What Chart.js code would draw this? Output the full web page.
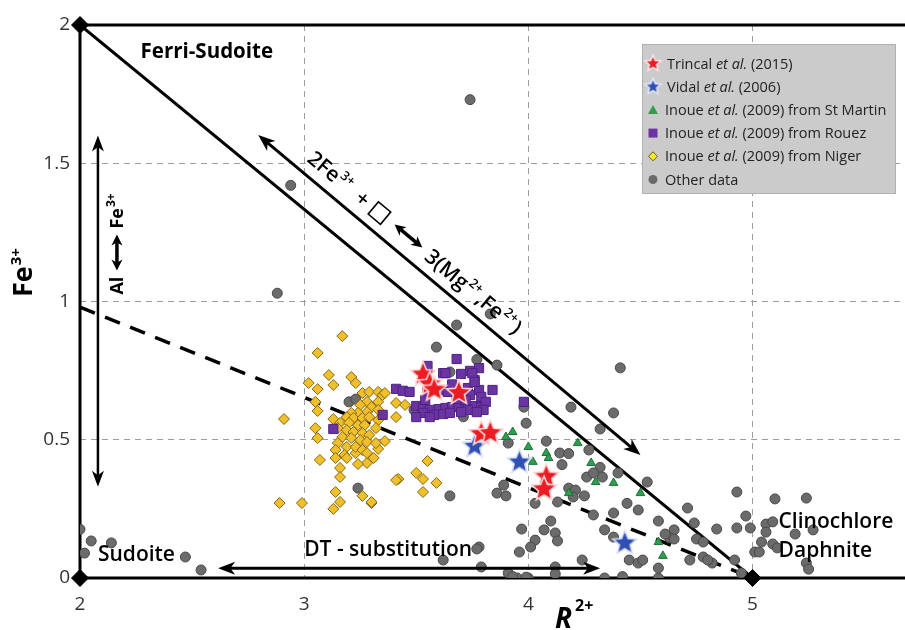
<!DOCTYPE html>
<html>
<head>
<meta charset="utf-8">
<script src="https://cdn.jsdelivr.net/npm/chart.js@4.4.1/dist/chart.umd.min.js"></script>
<style>
  html, body { margin: 0; padding: 0; background: #fff; }
  #wrap { width: 905px; height: 630px; }
</style>
</head>
<body>
<div id="wrap"><canvas id="chloriteChart" width="905" height="630"></canvas></div>
<script>
// ---- data (R2+ , Fe3+) -------------------------------------------------
const xRange = [2, 5.68];
const yRange = [0, 2];

// compositional joins and end members
const ferriJoin = [[2, 2], [5, 0]];
const dtJoin = [[2, 0.98], [5, 0]];
const endMembers = [[2, 2], [2, 0], [5, 0]];

const trincal = [[3.53, 0.74], [3.56, 0.705], [3.58, 0.685], [3.69, 0.673],
  [3.79, 0.525], [3.83, 0.528], [4.08, 0.37], [4.07, 0.325]];

const vidal = [[3.76, 0.48], [3.96, 0.423], [4.43, 0.13]];

const stMartin = [[3.93, 0.528], [3.90, 0.51], [4.00, 0.474], [4.08, 0.452],
  [4.09, 0.434], [4.02, 0.42], [4.22, 0.488], [4.28, 0.416], [4.30, 0.347],
  [4.38, 0.344], [4.18, 0.307], [4.50, 0.307], [4.58, 0.13], [4.60, 0.08]];

const rouez = [[3.55, 0.767], [3.68, 0.792], [3.74, 0.749], [3.78, 0.759],
  [3.76, 0.716], [3.70, 0.738], [3.62, 0.741], [3.41, 0.684], [3.44, 0.677],
  [3.47, 0.673], [3.55, 0.673], [3.62, 0.68], [3.73, 0.687], [3.78, 0.68],
  [3.84, 0.68], [3.74, 0.662], [3.79, 0.655], [3.50, 0.622], [3.53, 0.615],
  [3.56, 0.608], [3.60, 0.611], [3.63, 0.615], [3.66, 0.618], [3.69, 0.622],
  [3.72, 0.618], [3.75, 0.622], [3.79, 0.618], [3.53, 0.597], [3.58, 0.59],
  [3.62, 0.593], [3.54, 0.644], [3.68, 0.647], [3.72, 0.644], [3.98, 0.637],
  [3.81, 0.637], [3.35, 0.59], [3.13, 0.539], [3.63, 0.741], [3.75, 0.741],
  [3.76, 0.709], [3.50, 0.582], [3.56, 0.582], [3.65, 0.597], [3.73, 0.608],
  [3.80, 0.608], [3.64, 0.673], [3.66, 0.70], [3.70, 0.60], [3.77, 0.60]];

const niger = [[3.17, 0.875], [3.06, 0.814], [3.11, 0.734], [3.13, 0.698],
  [3.02, 0.705], [3.06, 0.683], [3.21, 0.727], [3.23, 0.705], [3.05, 0.637],
  [3.06, 0.604], [2.91, 0.575], [3.13, 0.575], [3.05, 0.542], [3.06, 0.506],
  [3.07, 0.427], [3.16, 0.398], [3.16, 0.365], [3.14, 0.311], [3.16, 0.275],
  [3.13, 0.25], [2.89, 0.271], [2.99, 0.271], [3.26, 0.297], [3.30, 0.271],
  [3.42, 0.358], [3.50, 0.38], [3.53, 0.358], [3.53, 0.311], [3.59, 0.344],
  [3.55, 0.423], [3.36, 0.495], [3.33, 0.467], [3.31, 0.434], [3.28, 0.416],
  [3.24, 0.412], [3.23, 0.452], [3.41, 0.633], [3.45, 0.626], [3.41, 0.582],
  [3.26, 0.669], [3.29, 0.673], [3.33, 0.673], [3.35, 0.662], [3.36, 0.669],
  [3.33, 0.637], [3.28, 0.637], [3.25, 0.626], [3.30, 0.618], [3.33, 0.608],
  [3.28, 0.600], [3.24, 0.597], [3.21, 0.597], [3.19, 0.582], [3.22, 0.579],
  [3.26, 0.579], [3.29, 0.582], [3.33, 0.571], [3.16, 0.561], [3.20, 0.561],
  [3.24, 0.553], [3.27, 0.553], [3.32, 0.542], [3.15, 0.542], [3.19, 0.535],
  [3.22, 0.528], [3.26, 0.524], [3.29, 0.517], [3.17, 0.51], [3.21, 0.506],
  [3.25, 0.499], [3.28, 0.492], [3.32, 0.488], [3.15, 0.488], [3.19, 0.474],
  [3.23, 0.474], [3.26, 0.463], [3.14, 0.463], [3.18, 0.445], [3.28, 0.452],
  [3.19, 0.434], [3.14, 0.434], [3.30, 0.275], [3.41, 0.354]];

const otherData = [[3.74, 1.73], [2.94, 1.42], [2.88, 1.03], [3.68, 0.915],
  [3.83, 0.955], [3.59, 0.835], [3.77, 0.79], [3.86, 0.77], [3.65, 0.745],
  [4.41, 0.76], [3.20, 0.637], [3.23, 0.647], [3.49, 0.608], [3.71, 0.583],
  [3.98, 0.618], [3.24, 0.325], [3.65, 0.297], [3.86, 0.307], [3.89, 0.336],
  [3.90, 0.297], [3.99, 0.56], [4.19, 0.618], [4.38, 0.597], [4.32, 0.539],
  [4.08, 0.495], [3.91, 0.488], [4.14, 0.452], [4.18, 0.45], [4.15, 0.41],
  [4.27, 0.463], [4.32, 0.40], [4.33, 0.365], [4.26, 0.365], [4.29, 0.38],
  [4.40, 0.38], [4.53, 0.347], [4.18, 0.325], [4.21, 0.318], [4.20, 0.293],
  [4.25, 0.297], [4.13, 0.275], [4.03, 0.27], [4.29, 0.228], [4.38, 0.235],
  [4.44, 0.27], [4.49, 0.246], [4.58, 0.206], [4.71, 0.253], [4.65, 0.174],
  [4.63, 0.145], [4.10, 0.206], [4.34, 0.174], [4.38, 0.148], [4.07, 0.174],
  [4.12, 0.163], [4.13, 0.134], [3.97, 0.177], [4.03, 0.137], [4.01, 0.112],
  [3.96, 0.094], [3.78, 0.112], [3.62, 0.065], [3.79, 0.04], [3.95, 0.0],
  [4.0, 0.0], [4.12, 0.04], [4.12, 0.015], [4.24, 0.065], [4.34, 0.0],
  [4.42, 0.005], [4.45, 0.065], [4.49, 0.054], [4.51, 0.065], [4.58, 0.036],
  [4.58, 0.0], [3.91, 0.018], [3.93, 0.005], [3.99, 0.003], [4.93, 0.311],
  [5.10, 0.286], [5.24, 0.289], [4.97, 0.224], [4.74, 0.199], [4.84, 0.177],
  [4.93, 0.181], [4.99, 0.181], [5.06, 0.195], [5.09, 0.203], [5.06, 0.166],
  [5.19, 0.159], [5.27, 0.174], [4.61, 0.159], [4.65, 0.141], [4.75, 0.141],
  [4.78, 0.13], [5.04, 0.13], [5.01, 0.094], [5.03, 0.094], [5.09, 0.123],
  [5.11, 0.109], [4.72, 0.065], [4.78, 0.076], [4.82, 0.054], [4.80, 0.065],
  [4.92, 0.065], [5.24, 0.054], [5.25, 0.032], [4.95, 0.018], [2.0, 0.176],
  [2.05, 0.134], [2.02, 0.09], [2.14, 0.127], [2.47, 0.076], [2.54, 0.029],
  [3.77, 0.105]];

const legendRows = [
  ['Trincal ', 'et al.', ' (2015)'],
  ['Vidal ', 'et al.', ' (2006)'],
  ['Inoue ', 'et al.', ' (2009) from St Martin'],
  ['Inoue ', 'et al.', ' (2009) from Rouez'],
  ['Inoue ', 'et al.', ' (2009) from Niger'],
  ['Other data', '', '']
];

const pts = arr => arr.map(p => ({ x: p[0], y: p[1] }));

// ---- filled star point images ----------------------------------------
function starPath(ctx, cx, cy, ro, ri) {
  ctx.beginPath();
  for (let i = 0; i < 10; i++) {
    const r = i % 2 === 0 ? ro : ri;
    const a = -Math.PI / 2 + i * Math.PI / 5;
    ctx.lineTo(cx + r * Math.cos(a), cy + r * Math.sin(a));
  }
  ctx.closePath();
}
function makeStar(fill, edge, ro) {
  const c = document.createElement('canvas');
  const s = Math.ceil(ro * 2 + 6);
  c.width = s; c.height = s;
  const g = c.getContext('2d');
  starPath(g, s / 2, s / 2 + 1, ro, ro * 0.45);
  g.fillStyle = fill;
  g.fill();
  g.lineWidth = 1.6;
  g.strokeStyle = edge;
  g.stroke();
  return c;
}
const redStar = makeStar('#ec1c24', '#ffd6d6', 13);
const blueStar = makeStar('#2f4fb3', '#d4dcf5', 12.5);

// ---- drawing helpers ---------------------------------------------------
function arrowHead(ctx, x, y, ang, len, half) {
  ctx.save();
  ctx.translate(x, y);
  ctx.rotate(ang);
  ctx.beginPath();
  ctx.moveTo(0, 0);
  ctx.lineTo(-len, -half);
  ctx.lineTo(-len * 0.72, 0);
  ctx.lineTo(-len, half);
  ctx.closePath();
  ctx.fill();
  ctx.restore();
}
function doubleArrow(ctx, x1, y1, x2, y2, lw, len, half) {
  const a = Math.atan2(y2 - y1, x2 - x1);
  const k = len * 0.7;
  ctx.lineWidth = lw;
  ctx.beginPath();
  ctx.moveTo(x1 + Math.cos(a) * k, y1 + Math.sin(a) * k);
  ctx.lineTo(x2 - Math.cos(a) * k, y2 - Math.sin(a) * k);
  ctx.stroke();
  arrowHead(ctx, x2, y2, a, len, half);
  arrowHead(ctx, x1, y1, a + Math.PI, len, half);
}
// draw a run of text pieces along the current baseline, return end x
function richText(ctx, x, y, pieces) {
  pieces.forEach(p => {
    ctx.font = p.font;
    ctx.fillText(p.t, x, y - (p.up || 0));
    x += ctx.measureText(p.t).width + (p.gap || 0);
  });
  return x;
}

const FONT = '"Open Sans", "DejaVu Sans", sans-serif';

const overlay = {
  id: 'overlay',
  afterDatasetsDraw(chart) {
    const { ctx, scales: { x, y } } = chart;
    const px = v => x.getPixelForValue(v);
    const py = v => y.getPixelForValue(v);
    ctx.save();
    ctx.fillStyle = '#000';
    ctx.strokeStyle = '#000';
    ctx.textBaseline = 'alphabetic';

    // exchange vector parallel to the ferri join
    const ax1 = px(2.795), ay1 = py(1.602), ax2 = px(4.5), ay2 = py(0.445);
    doubleArrow(ctx, ax1, ay1, ax2, ay2, 3, 17, 6.5);
    const ang = Math.atan2(ay2 - ay1, ax2 - ax1);
    ctx.save();
    ctx.translate(ax1, ay1);
    ctx.rotate(ang);
    const base = -11;
    const big = '600 21px ' + FONT, sup = '600 13px ' + FONT;
    richText(ctx, 53, base, [
      { t: '2Fe', font: big, gap: 1 },
      { t: '3+', font: sup, up: 9 }
    ]);
    ctx.font = big;
    ctx.textAlign = 'center';
    ctx.fillText('+', 121, base);
    ctx.textAlign = 'left';
    ctx.lineWidth = 1.6;
    ctx.strokeRect(135, base - 15, 16, 16);
    doubleArrow(ctx, 162, base - 8, 198, base - 8, 3.5, 11, 5.5);
    richText(ctx, 206, base, [
      { t: '3(Mg', font: big, gap: 1 },
      { t: '2+', font: sup, up: 9, gap: 1 },
      { t: ',Fe', font: big, gap: 1 },
      { t: '2+', font: sup, up: 9, gap: 1 },
      { t: ')', font: big }
    ]);
    ctx.restore();

    // Al <-> Fe3+ substitution
    const vx = px(2.08);
    doubleArrow(ctx, vx, py(1.6), vx, py(0.33), 2.5, 16, 6);
    ctx.save();
    ctx.translate(vx + 25, py(1.025));
    ctx.rotate(-Math.PI / 2);
    richText(ctx, 0, 0, [{ t: 'Al', font: 'bold 18px ' + FONT }]);
    doubleArrow(ctx, 24, -6, 60, -6, 3.5, 11, 5.5);
    richText(ctx, 66, 0, [
      { t: 'Fe', font: 'bold 18px ' + FONT, gap: 1 },
      { t: '3+', font: 'bold 12px ' + FONT, up: 8 }
    ]);
    ctx.restore();

    // DT substitution
    doubleArrow(ctx, px(2.616), py(0.035), px(4.32), py(0.035), 3, 17, 6.5);

    // field labels
    ctx.font = 'bold 20.5px ' + FONT;
    ctx.fillText('Ferri-Sudoite', px(2.27), py(1.88));
    ctx.font = '600 21px ' + FONT;
    ctx.fillText('Sudoite', px(2.08), py(0.063));
    ctx.fillText('DT - substitution', px(3.0), py(0.08));
    ctx.fillText('Clinochlore', px(5.116), py(0.18));
    ctx.fillText('Daphnite', px(5.116), py(0.077));

    // axis titles
    ctx.save();
    ctx.translate(32, 297);
    ctx.rotate(-Math.PI / 2);
    richText(ctx, 0, 0, [
      { t: 'Fe', font: 'bold 27px ' + FONT, gap: 1 },
      { t: '3+', font: 'bold 15px ' + FONT, up: 11 }
    ]);
    ctx.restore();
    richText(ctx, 555, 628, [
      { t: 'R', font: 'italic bold 28px ' + FONT, gap: 3 },
      { t: '2+', font: 'bold 16px ' + FONT, up: 17 }
    ]);

    // legend box
    const lx = 642, ly = 44, lw = 253, lh = 149;
    ctx.fillStyle = '#cbcbcb';
    ctx.fillRect(lx, ly, lw, lh);
    ctx.strokeStyle = '#b0b0b0';
    ctx.lineWidth = 1;
    ctx.strokeRect(lx + 0.5, ly + 0.5, lw, lh);
    const sx = 653;
    const rowY = i => 63.5 + i * 23.2;
    ctx.drawImage(makeStar('#ec1c24', '#ffe0e0', 8.5), sx - 11.5, rowY(0) - 12.5);
    ctx.drawImage(makeStar('#2f4fb3', '#e0e6fa', 8.5), sx - 11.5, rowY(1) - 12.5);
    ctx.fillStyle = '#2f9e4f';
    ctx.beginPath();
    ctx.moveTo(sx, rowY(2) - 5); ctx.lineTo(sx + 5, rowY(2) + 4); ctx.lineTo(sx - 5, rowY(2) + 4);
    ctx.closePath(); ctx.fill();
    ctx.fillStyle = '#6b34a3';
    ctx.fillRect(sx - 4.5, rowY(3) - 4.5, 9, 9);
    ctx.beginPath();
    ctx.moveTo(sx, rowY(4) - 4.5); ctx.lineTo(sx + 4.5, rowY(4)); ctx.lineTo(sx, rowY(4) + 4.5); ctx.lineTo(sx - 4.5, rowY(4));
    ctx.closePath();
    ctx.fillStyle = '#f6ea2c'; ctx.fill();
    ctx.strokeStyle = '#6d5a10'; ctx.lineWidth = 1; ctx.stroke();
    ctx.beginPath();
    ctx.arc(sx, rowY(5), 4.5, 0, Math.PI * 2);
    ctx.fillStyle = '#6a6a6a'; ctx.fill();
    ctx.fillStyle = '#222';
    legendRows.forEach((r, i) => {
      richText(ctx, i < 2 ? 667 : 665, rowY(i) + 5, [
        { t: r[0], font: '14.5px ' + FONT },
        { t: r[1], font: 'italic 14.5px ' + FONT },
        { t: r[2], font: '14.5px ' + FONT }
      ]);
    });
    ctx.restore();
  }
};

// ---- chart ------------------------------------------------------------
const gridAt = vals => c => (c.tick && vals.includes(c.tick.value)) ? '#9c9c9c' : 'rgba(0,0,0,0)';
const frame = (a, b) => ({
  type: 'scatter', data: pts([a, b]), showLine: true, borderColor: '#000',
  borderWidth: 3, pointRadius: 0, clip: 10, order: 9
});

new Chart(document.getElementById('chloriteChart'), {
  type: 'scatter',
  data: {
    datasets: [
      frame([xRange[0], yRange[1]], [xRange[1], yRange[1]]),
      frame([xRange[0], yRange[0]], [xRange[1], yRange[0]]),
      frame([xRange[0], yRange[0]], [xRange[0], yRange[1]]),
      { data: pts(ferriJoin), showLine: true, borderColor: '#000', borderWidth: 3,
        pointRadius: 0, order: 8 },
      { data: pts(dtJoin), showLine: true, borderColor: '#000', borderWidth: 3.5,
        borderDash: [16, 11], pointRadius: 0, order: 8 },
      { label: 'Other data', data: pts(otherData), pointStyle: 'circle', pointRadius: 5,
        backgroundColor: '#6b6b6b', borderColor: '#484848', borderWidth: 1, order: 7 },
      { label: 'Niger', data: pts(niger), pointStyle: 'rectRot', pointRadius: 5.5,
        backgroundColor: '#f0c02c', borderColor: '#86670f', borderWidth: 1, order: 6 },
      { label: 'Rouez', data: pts(rouez), pointStyle: 'rect', pointRadius: 6.5,
        backgroundColor: '#6b34a3', borderColor: '#4e2382', borderWidth: 1, order: 5 },
      { label: 'St Martin', data: pts(stMartin), pointStyle: 'triangle', pointRadius: 5,
        backgroundColor: '#2f9e4f', borderColor: '#1f7038', borderWidth: 1, order: 4 },
      { label: 'Vidal', data: pts(vidal), pointStyle: blueStar, order: 3 },
      { label: 'Trincal', data: pts(trincal), pointStyle: redStar, order: 2 },
      { data: pts(endMembers), pointStyle: 'rectRot', pointRadius: 8.5,
        backgroundColor: '#000', borderColor: '#000', clip: 12, order: 1 }
    ]
  },
  options: {
    responsive: false,
    animation: false,
    events: [],
    layout: { autoPadding: false, padding: { top: 25, left: 0, right: 0, bottom: 0 } },
    plugins: { legend: { display: false }, tooltip: { enabled: false } },
    scales: {
      x: {
        type: 'linear', min: xRange[0], max: xRange[1],
        afterFit: s => { s.height = 52; s.paddingRight = 0; },
        ticks: {
          stepSize: 1, padding: 15, color: '#333', includeBounds: false,
          font: { family: FONT, size: 19 },
          callback: v => Number.isInteger(v) ? String(v) : ''
        },
        grid: { color: gridAt([3, 4, 5]), lineWidth: 1, drawTicks: false },
        border: { display: false, dash: [6, 5] }
      },
      y: {
        type: 'linear', min: yRange[0], max: yRange[1],
        afterFit: s => { s.width = 80; },
        ticks: {
          stepSize: 0.5, padding: 10, color: '#333',
          font: { family: FONT, size: 19 },
          callback: v => String(v)
        },
        grid: { color: gridAt([0.5, 1, 1.5]), lineWidth: 1, drawTicks: false },
        border: { display: false, dash: [6, 5] }
      }
    }
  },
  plugins: [overlay]
});
</script>
</body>
</html>
